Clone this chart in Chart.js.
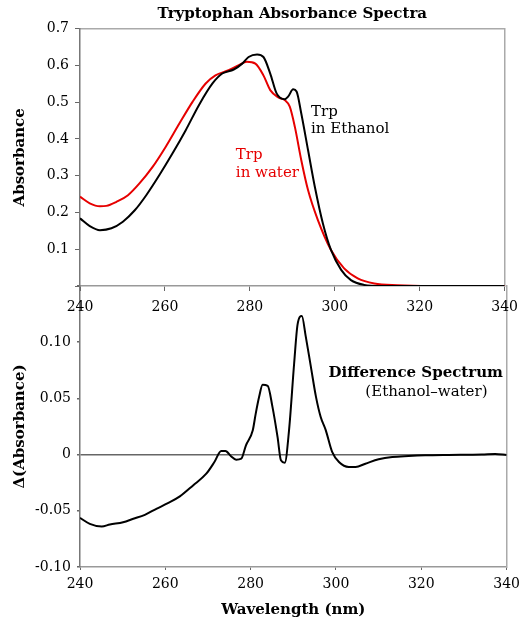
<!DOCTYPE html>
<html>
<head>
<meta charset="utf-8">
<title>Tryptophan Absorbance Spectra</title>
<script src="https://cdn.jsdelivr.net/npm/chart.js@4.4.1/dist/chart.umd.min.js"></script>
<style>
  html, body { margin: 0; padding: 0; background: #fff; }
  #wrap { position: relative; width: 526px; height: 622px; }
  #wrap canvas { position: absolute; left: 0; top: 0; }
</style>
</head>
<body>
<div id="wrap">
  <canvas id="diff-chart" width="526" height="622"></canvas>
  <canvas id="spectra-chart" width="526" height="622"></canvas>
</div>
<script>
// Trp in ethanol (black)
const ethanolWl = [240, 242.3, 244.7, 247.4, 250.1, 252.9, 255.6, 258.7, 261.8, 264.9, 268, 271.2, 273.5, 276.2, 278.2, 279.7, 281.7, 283.2, 284.8, 286.3, 288.2, 289, 290.2, 291, 292.1, 293.7, 295.3, 297.2, 299.1, 301.5, 303.8, 306.9, 310.8, 320, 330, 340];
const ethanolAbs = [0.184, 0.163, 0.152, 0.157, 0.175, 0.206, 0.247, 0.302, 0.361, 0.424, 0.492, 0.551, 0.578, 0.589, 0.605, 0.623, 0.630, 0.623, 0.578, 0.524, 0.508, 0.515, 0.535, 0.529, 0.470, 0.370, 0.270, 0.170, 0.098, 0.044, 0.016, 0.003, 0.0, 0.0, 0.0, 0.0];

// Trp in water (red)
const waterWl = [240, 242.3, 244.7, 246.2, 248.6, 251.3, 254, 257.1, 260.2, 263.4, 266.5, 269.6, 271.9, 275, 277.4, 279.3, 281.3, 283.2, 284.8, 286.7, 288.2, 289.4, 290.6, 292.1, 293.7, 296, 299.1, 302.2, 305.4, 309.3, 314.7, 322.5, 330, 340];
const waterAbs = [0.243, 0.225, 0.217, 0.218, 0.229, 0.247, 0.279, 0.324, 0.379, 0.442, 0.501, 0.551, 0.573, 0.587, 0.601, 0.610, 0.605, 0.573, 0.533, 0.513, 0.506, 0.488, 0.433, 0.343, 0.261, 0.180, 0.098, 0.048, 0.021, 0.007, 0.002, 0.0, 0.0, 0.0];

// difference spectrum (ethanol - water)
const diffWl = [240, 242.3, 245.1, 247, 250.1, 252.5, 255.2, 257.9, 260.6, 263.4, 266.5, 269.6, 271.5, 273.1, 274.1, 275.4, 276.6, 277.8, 278.9, 280.5, 281.2, 282, 282.8, 284, 285.1, 286.3, 287.1, 288, 289, 290.2, 291, 292, 292.9, 294.1, 295.3, 296.4, 297.6, 299.1, 300.7, 303, 304.6, 306.9, 310, 313.2, 317, 320.9, 326.4, 334.2, 337.3, 340];
const diffAbs = [-0.0563, -0.0616, -0.0640, -0.0622, -0.0602, -0.0571, -0.0536, -0.0482, -0.0432, -0.0372, -0.0274, -0.0170, -0.0066, 0.0032, 0.0032, -0.0015, -0.0045, -0.0036, 0.0083, 0.0217, 0.0367, 0.0516, 0.0621, 0.0612, 0.0427, 0.0158, -0.0051, -0.0072, 0.0218, 0.0815, 0.1158, 0.1233, 0.1054, 0.0785, 0.0516, 0.0337, 0.0218, 0.0024, -0.0066, -0.0110, -0.0110, -0.0081, -0.0042, -0.0021, -0.0012, -0.0006, -0.0003, 0.0, 0.0006, -0.0003];

const xTicks = [240, 260, 280, 300, 320, 340];

const serif = "'DejaVu Serif', 'Liberation Serif', serif";

function toPoints(xs, ys) {
    return xs.map(function (x, i) { return { x: x, y: ys[i] }; });
}

// text labels placed in data units
function textLabels(items) {
    return {
        id: "textLabels",
        afterDatasetsDraw: function (chart) {
            const ctx = chart.ctx;
            const sx = chart.scales.x;
            const sy = chart.scales.y;
            ctx.save();
            ctx.textBaseline = "middle";
            items.forEach(function (it) {
                ctx.font = (it.bold ? "bold " : "") + "15px " + serif;
                ctx.fillStyle = it.color || "#000";
                ctx.textAlign = it.align || "left";
                ctx.fillText(it.text, sx.getPixelForValue(it.x), sy.getPixelForValue(it.y));
            });
            ctx.restore();
        }
    };
}

// tickless axis used only for the grey frame edge (and optionally a title)
function borderAxis(pos, size, title) {
    const ax = {
        position: pos,
        display: true,
        grid: { display: false },
        ticks: { display: false },
        border: { color: "#aaa", width: 1.5 },
        afterFit: function (s) {
            if (pos === "top") s.height = size; else s.width = size;
        }
    };
    if (title) {
        ax.title = {
            display: true,
            text: title,
            color: "#000",
            font: { family: serif, size: 15, weight: "bold" },
            padding: { top: 5, bottom: 0 }
        };
    }
    return ax;
}

// top: absorbance spectra
new Chart(document.getElementById("spectra-chart"), {
    type: "line",
    data: {
        datasets: [
            {
                label: "Trp in Ethanol",
                data: toPoints(ethanolWl, ethanolAbs),
                borderColor: "#000",
                borderWidth: 2,
                pointRadius: 0,
                cubicInterpolationMode: "monotone"
            },
            {
                label: "Trp in water",
                data: toPoints(waterWl, waterAbs),
                borderColor: "#e60000",
                borderWidth: 2,
                pointRadius: 0,
                cubicInterpolationMode: "monotone"
            }
        ]
    },
    options: {
        responsive: false,
        animation: false,
        layout: { padding: { left: 0, right: 18, top: 0, bottom: 300 } },
        plugins: {
            legend: { display: false },
            tooltip: { enabled: false }
        },
        scales: {
            x: {
                type: "linear",
                min: 240,
                max: 340,
                afterBuildTicks: function (s) { s.ticks = xTicks.map(function (v) { return { value: v }; }); },
                ticks: {
                    color: "#000",
                    font: { family: serif, size: 14 },
                    padding: 8,
                    maxRotation: 0,
                    callback: function (v) { return String(v); }
                },
                grid: { drawOnChartArea: false, tickLength: 5, tickColor: "#666" },
                border: { color: "#999", width: 1.5 },
                afterFit: function (s) { s.height = 36; }
            },
            x2: borderAxis("top", 28.7, "Tryptophan Absorbance Spectra"),
            y: {
                min: 0,
                max: 0.7,
                ticks: {
                    stepSize: 0.1,
                    color: "#000",
                    font: { family: serif, size: 14 },
                    padding: 6,
                    callback: function (v) { return Math.abs(v) < 1e-9 ? "" : v.toFixed(1); }
                },
                grid: { drawOnChartArea: false, tickLength: 5, tickColor: "#666" },
                border: { color: "#777", width: 1.5 },
                title: {
                    display: true,
                    text: "Absorbance",
                    color: "#000",
                    font: { family: serif, size: 15, weight: "bold" },
                    padding: { top: 11, bottom: 0 }
                },
                afterFit: function (s) { s.width = 80; }
            },
            y2: borderAxis("right", 0)
        }
    },
    plugins: [textLabels([
        { text: "Trp", x: 294.4, y: 0.473 },
        { text: "in Ethanol", x: 294.4, y: 0.427 },
        { text: "Trp", x: 276.7, y: 0.356, color: "#e60000" },
        { text: "in water", x: 276.7, y: 0.307, color: "#e60000" }
    ])]
});

// bottom: difference spectrum
new Chart(document.getElementById("diff-chart"), {
    type: "line",
    data: {
        datasets: [{
            label: "Difference Spectrum",
            data: toPoints(diffWl, diffAbs),
            borderColor: "#000",
            borderWidth: 2,
            pointRadius: 0,
            cubicInterpolationMode: "monotone"
        }]
    },
    options: {
        responsive: false,
        animation: false,
        layout: { padding: { left: 0, right: 18, top: 286, bottom: 0 } },
        plugins: {
            legend: { display: false },
            tooltip: { enabled: false }
        },
        scales: {
            x: {
                type: "linear",
                min: 240,
                max: 340,
                afterBuildTicks: function (s) { s.ticks = xTicks.map(function (v) { return { value: v }; }); },
                ticks: {
                    color: "#000",
                    font: { family: serif, size: 14 },
                    padding: 6,
                    maxRotation: 0,
                    callback: function (v) { return String(v); }
                },
                grid: { drawOnChartArea: false, tickLength: 3, tickColor: "#666" },
                border: { color: "#999", width: 1.5 },
                title: {
                    display: true,
                    text: "Wavelength (nm)",
                    color: "#000",
                    font: { family: serif, size: 15, weight: "bold" },
                    padding: { top: 0, bottom: 3 }
                },
                afterFit: function (s) { s.height = 55; }
            },
            y: {
                min: -0.1,
                max: 0.15,
                ticks: {
                    stepSize: 0.05,
                    color: "#000",
                    font: { family: serif, size: 14 },
                    padding: 6,
                    callback: function (v) {
                        if (Math.abs(v) < 1e-9) return "0";
                        if (v > 0.14) return "";
                        return v.toFixed(2);
                    }
                },
                grid: {
                    drawOnChartArea: true,
                    tickLength: 3,
                    tickColor: "#666",
                    lineWidth: 1.5,
                    color: function (c) { return c.tick && Math.abs(c.tick.value) < 1e-9 ? "#666" : "rgba(0,0,0,0)"; }
                },
                border: { color: "#777", width: 1.5 },
                title: {
                    display: true,
                    text: "\u0394(Absorbance)",
                    color: "#000",
                    font: { family: serif, size: 15, weight: "bold" },
                    padding: { top: 11, bottom: 0 }
                },
                afterFit: function (s) { s.width = 80; }
            },
            y2: borderAxis("right", 0)
        }
    },
    plugins: [textLabels([
        { text: "Difference Spectrum", x: 318.7, y: 0.0729, bold: true, align: "center" },
        { text: "(Ethanol\u2013water)", x: 321.2, y: 0.0556, align: "center" }
    ])]
});
</script>
</body>
</html>
